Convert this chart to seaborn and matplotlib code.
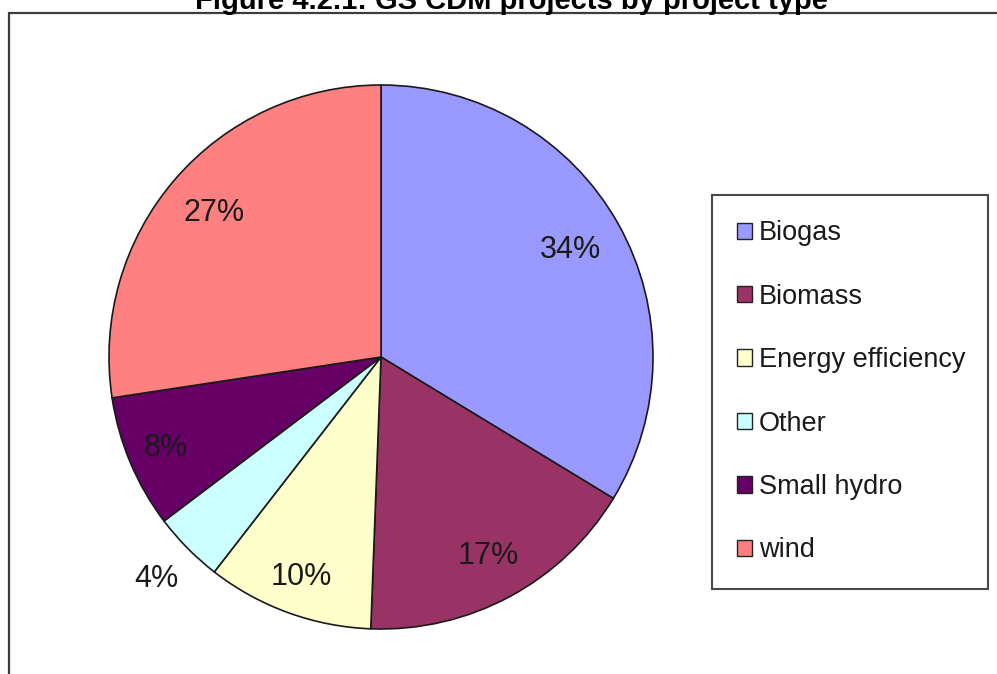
import numpy as np
import matplotlib
matplotlib.use('Agg')
import matplotlib.pyplot as plt
import seaborn as sns
from matplotlib.patches import Patch, Rectangle

# Data
project_types = ['Biogas', 'Biomass', 'Energy efficiency', 'Other', 'Small hydro', 'wind']
shares = [33.7, 16.9, 9.9, 4.2, 7.9, 27.4]
colors = ['#9999FF', '#993366', '#FFFFCC', '#CCFFFF', '#660066', '#FF8080']
title = 'Figure 4.2.1: GS CDM projects by project type'

# label distance from centre (fraction of radius), Excel-style placement
label_dist = [0.80, 0.83, 0.86, 1.16, 0.86, 0.81]

sns.set_theme(style='white')
plt.rcParams['font.family'] = ['Liberation Sans', 'DejaVu Sans']

W, H = 997, 674
fig = plt.figure(figsize=(W / 100, H / 100), dpi=100)
fig.patch.set_facecolor('white')

# outer chart frame (cut off at right and bottom)
fig.add_artist(Rectangle((9 / W, -0.1), 1.2, 1 - 13 / H + 0.1, transform=fig.transFigure,
                         fill=False, edgecolor='#3c3c3c', linewidth=1.6))

# title, partly cut off at the top
fig.text(0.5 + 13 / W, 1 - 9 / H, title, ha='center', va='baseline',
         fontsize=21, fontweight='bold', color='black')

# pie axes
cx, cy, r = 381, 357, 272
ax = fig.add_axes([(cx - r) / W, 1 - (cy + r) / H, 2 * r / W, 2 * r / H])
wedges, texts, autotexts = ax.pie(
    shares, colors=colors, startangle=90, counterclock=False,
    autopct='%.0f%%', pctdistance=0.82,
    wedgeprops=dict(edgecolor='#1a1a1a', linewidth=1.2),
    textprops=dict(fontsize=22, color='#1a1a1a'))
for w, t, d in zip(wedges, autotexts, label_dist):
    ang = np.deg2rad((w.theta1 + w.theta2) / 2)
    t.set_position((d * np.cos(ang), d * np.sin(ang)))
ax.set_xlim(-1, 1)
ax.set_ylim(-1, 1)
ax.set_aspect('equal')
ax.axis('off')

# legend
handles = [Patch(facecolor=c, edgecolor='#222222', linewidth=1.0) for c in colors]
leg = fig.legend(handles, project_types, loc='upper left',
                 bbox_to_anchor=(712 / W, 0, 276 / W, 1 - 195 / H), mode='expand',
                 borderaxespad=0, fontsize=19.5, frameon=True, fancybox=False,
                 borderpad=0.94, labelspacing=1.38, handlelength=0.55, handleheight=0.55,
                 handletextpad=0.25)
frame = leg.get_frame()
frame.set_edgecolor('#1a1a1a')
frame.set_linewidth(1.5)
for txt in leg.get_texts():
    txt.set_color('#1a1a1a')

fig.savefig('out.png', dpi=100, facecolor='white')
